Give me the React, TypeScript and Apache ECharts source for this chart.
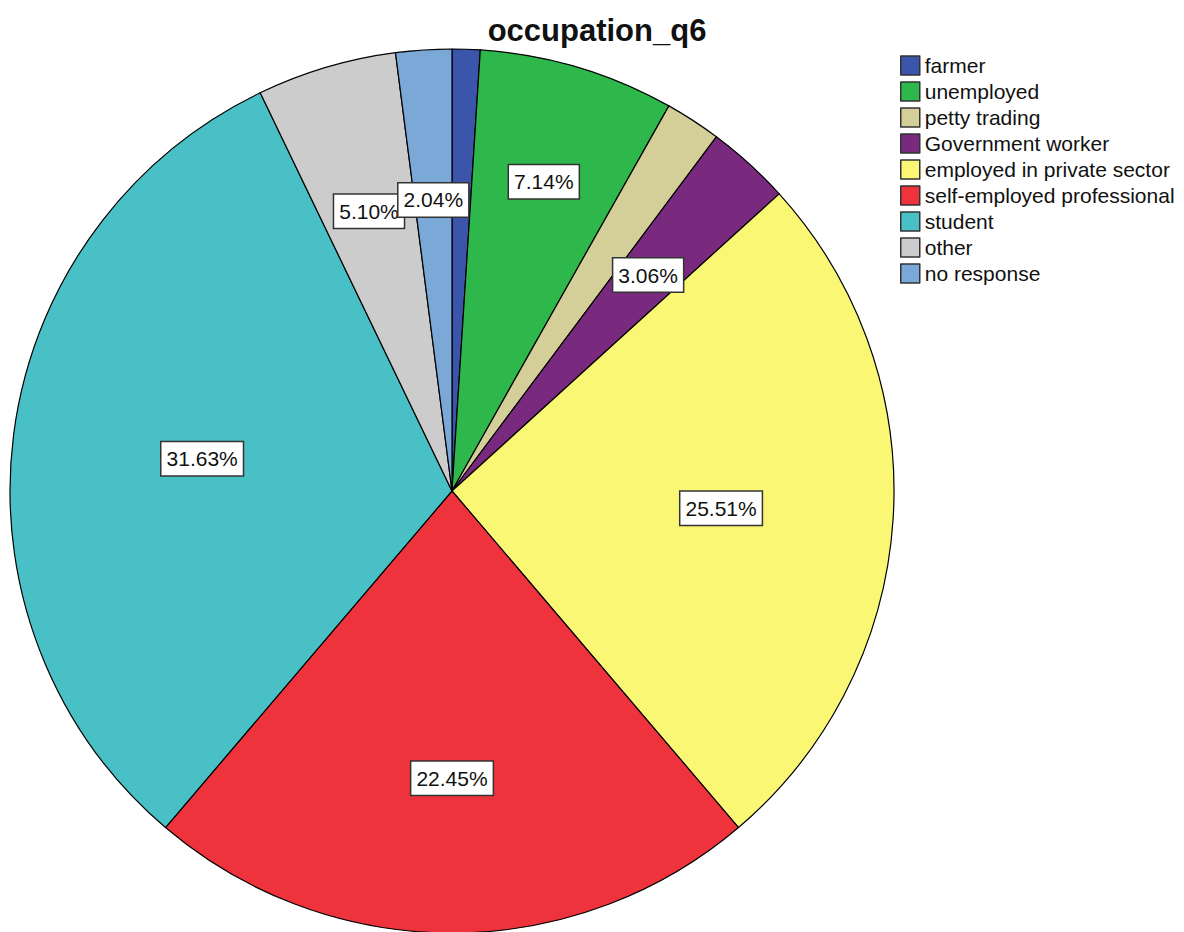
import React, { useEffect, useRef } from 'react';
import * as echarts from 'echarts';

const titleText = 'occupation_q6';
const categories = [
  'farmer',
  'unemployed',
  'petty trading',
  'Government worker',
  'employed in private sector',
  'self-employed professional',
  'student',
  'other',
  'no response',
];
const counts = [1, 7, 2, 3, 25, 22, 31, 5, 2];
const colors = ['#3B55AB', '#2EB74A', '#D4CF98', '#7A2A7E', '#FAF775', '#EF333C', '#48C0C5', '#CCCCCC', '#7AA9D8'];
const hiddenLabels = ['farmer', 'petty trading'];
// relative radius at which each slice's label sits (styling only)
const labelRadius = [0.66, 0.73, 0.66, 0.66, 0.61, 0.65, 0.57, 0.66, 0.66];

const CX = 452;
const CY = 491;
const R = 442;
const FONT = '"Liberation Sans", Arial, Helvetica, sans-serif';

export default function App() {
  const ref = useRef<HTMLDivElement>(null);

  useEffect(() => {
    if (!ref.current) return;
    const chart = echarts.init(ref.current, null, { renderer: 'svg' });
    const total = counts.reduce((a, b) => a + b, 0);
    const mids: number[] = [];
    let acc = 0;
    counts.forEach((v) => {
      const a = (v / total) * Math.PI * 2;
      mids.push(acc + a / 2);
      acc += a;
    });

    chart.setOption({
      animation: false,
      backgroundColor: '#ffffff',
      title: {
        text: titleText,
        left: 592,
        textAlign: 'center',
        top: 10,
        textStyle: { fontFamily: FONT, fontSize: 31, fontWeight: 'bold', color: '#111' },
      },
      legend: {
        orient: 'vertical',
        left: 900,
        top: 55,
        padding: 0,
        itemWidth: 19,
        itemHeight: 19,
        itemGap: 5,
        icon: 'rect',
        data: categories,
        itemStyle: { borderColor: '#333', borderWidth: 1.5 },
        textStyle: { fontFamily: FONT, fontSize: 21, color: '#111' },
        selectedMode: false,
      },
      series: [
        {
          type: 'pie',
          center: [CX, CY],
          radius: [0, R],
          startAngle: 90,
          clockwise: true,
          avoidLabelOverlap: false,
          itemStyle: { borderColor: '#000', borderWidth: 1.2 },
          label: {
            show: true,
            position: 'inside',
            formatter: (p: any) => ((p.value / total) * 100).toFixed(2) + '%',
            fontFamily: FONT,
            fontSize: 21,
            lineHeight: 24,
            color: '#111',
            backgroundColor: '#fff',
            borderColor: '#333',
            borderWidth: 1.5,
            padding: [5, 5, 4, 5],
          },
          labelLine: { show: false },
          labelLayout: (params: any) => {
            const i = params.dataIndex;
            const r = labelRadius[i] * R;
            return {
              x: CX + r * Math.sin(mids[i]),
              y: CY - r * Math.cos(mids[i]),
            };
          },
          emphasis: { disabled: true },
          data: categories.map((name, i) => ({
            name,
            value: counts[i],
            itemStyle: { color: colors[i] },
            label: { show: !hiddenLabels.includes(name) },
          })),
        },
      ],
    });

    return () => chart.dispose();
  }, []);

  return (
    <div
      ref={ref}
      style={{ position: 'absolute', left: 0, top: 0, width: 1184, height: 932 }}
    />
  );
}
